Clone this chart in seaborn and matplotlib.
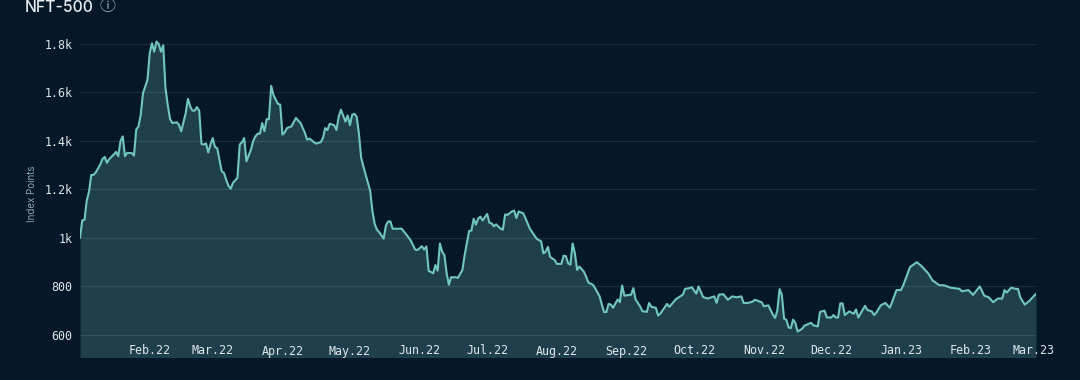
import pandas as pd
import matplotlib.pyplot as plt
import seaborn as sns

# Days since 1 Jan 2022 and index value
days = [0, 1, 2, 3, 4, 5, 6, 7, 9, 10, 11, 12, 13, 15, 16, 17, 18, 19, 20, 21, 23, 24, 25, 26, 27, 28, 29, 30,
        31, 32, 33, 34, 35, 36, 37, 38, 39, 40, 41, 43, 44, 45, 47, 48, 49, 50, 51, 52, 53, 54, 55, 56, 57, 58,
        59, 60, 61, 63, 64, 65, 66, 67, 68, 70, 71, 72, 73, 74, 76, 77, 78, 79, 80, 81, 82, 83, 84, 85, 86, 87,
        88, 89, 90, 91, 92, 94, 96, 97, 98, 100, 101, 102, 104, 105, 107, 108, 109, 110, 111, 113, 114, 115,
        116, 117, 118, 119, 120, 121, 122, 123, 124,
        125, 127, 129, 130, 131, 132, 133, 135, 136, 137, 138, 139, 141, 143, 145, 147, 149, 150, 152, 153, 154,
        155, 156, 157, 158, 159, 160, 161, 162, 163, 164, 165, 167, 168, 170, 171, 173, 174, 175, 176, 177, 178,
        179, 181, 182, 183, 184, 185, 187, 188, 189, 190, 192, 193, 194, 195, 197, 198, 200, 202, 203, 205, 206,
        207, 208, 209, 211, 212, 214, 215, 216, 217, 218, 219, 220, 221, 222, 224, 225, 226, 228, 229, 231, 232,
        233, 234, 235, 236, 237, 239, 240, 241, 242, 245, 246, 247, 249, 250, 252, 253, 254, 256, 257, 258, 261,
        262, 265, 268, 269, 271, 272, 274, 275, 277, 279, 282, 283,
        284, 286, 288, 290, 292, 294, 295, 297, 299, 300, 303, 304, 306, 308, 309, 310, 311, 312, 313, 314, 315,
        316, 317, 318, 319, 321, 322, 325, 326, 328, 329, 331, 332, 334, 335, 336, 337, 338, 339, 340, 342, 344,
        345, 346, 349, 350, 352, 353, 354, 356, 358, 360, 361, 363, 365, 366, 369, 372, 374, 377, 379, 382, 384,
        387, 391, 392, 395, 397, 400, 402, 404, 406, 408, 410, 411, 412, 414, 416, 417, 418, 420, 422, 425]
values = [1000, 1072, 1075, 1154, 1190, 1260, 1260, 1270, 1303, 1326, 1334, 1310, 1325, 1344, 1355, 1337, 1399, 1419,
          1337, 1351, 1350, 1340, 1447, 1460, 1508, 1597, 1625, 1652,
          1762, 1803, 1768, 1810, 1800, 1768, 1795, 1618, 1549, 1492, 1474, 1477, 1467, 1440, 1515, 1574, 1542, 1525,
          1525, 1540, 1525, 1388, 1385, 1390, 1353, 1385,
          1412, 1375, 1370, 1275, 1268, 1240, 1215, 1203, 1227, 1248, 1385, 1395, 1412, 1316, 1364, 1400, 1419, 1430,
          1430, 1474, 1440, 1490, 1490, 1627, 1590, 1570,
          1553, 1550, 1426, 1435, 1453, 1460, 1495, 1484, 1475, 1433, 1405, 1410, 1395, 1389, 1395, 1412, 1453, 1445,
          1471, 1465, 1445, 1500,
          1529, 1505, 1480, 1505, 1465, 1508, 1512, 1500, 1430,
          1330, 1260, 1195, 1110, 1058, 1034, 1024, 997, 1052, 1068, 1068, 1038, 1038, 1038, 1015, 990, 952, 950, 966,
          952, 965,
          864, 860, 854, 888, 865, 977, 943, 929, 854, 807, 838, 838, 835, 868, 929, 1029, 1030, 1079, 1055, 1080, 1088,
          1072, 1099, 1063, 1060, 1048, 1056, 1038, 1034, 1097, 1095, 1109, 1113, 1082, 1109, 1102, 1082, 1038, 1011,
          997, 986, 936,
          943, 963, 922, 909, 893, 893, 927, 925, 895, 890, 977, 937, 868, 882, 861, 840, 816, 807, 793, 759, 725,
          694, 694, 728, 725, 712, 746, 735, 804, 762, 766, 793, 746, 718, 698, 695, 732, 716, 712, 680, 688, 728,
          716, 748, 766, 790, 793, 797, 770, 800, 756, 750, 759, 732,
          766, 768, 745, 759, 755, 759, 732, 732, 737, 745, 735, 718, 722, 684, 670, 700, 789, 766, 667, 663, 631,
          628, 663, 650, 614, 625, 638, 650, 640, 635, 695, 700, 672, 672, 682, 672, 672, 730, 730, 682, 697, 687,
          705, 672, 720, 703, 697, 682, 692, 722, 732, 712, 735, 785, 785, 805, 880, 900, 885, 855, 825, 805, 805,
          795, 790, 780, 785, 765, 800, 762, 755, 735, 750, 750, 785, 775, 795, 790, 790, 755, 725, 740, 770]
month_ticks = ['2022-02-01', '2022-03-01', '2022-04-01', '2022-05-01', '2022-06-01', '2022-07-01', '2022-08-01',
               '2022-09-01', '2022-10-01', '2022-11-01', '2022-12-01', '2023-01-01', '2023-02-01', '2023-03-01']
month_labels = ['Feb.22', 'Mar.22', 'Apr.22', 'May.22', 'Jun.22', 'Jul.22', 'Aug.22',
                'Sep.22', 'Oct.22', 'Nov.22', 'Dec.22', 'Jan.23', 'Feb.23', 'Mar.23']
y_ticks = [600, 800, 1000, 1200, 1400, 1600, 1800]
y_labels = ['600', '800', '1k', '1.2k', '1.4k', '1.6k', '1.8k']

df = pd.DataFrame({'date': pd.Timestamp('2022-01-01') + pd.to_timedelta(days, unit='D'), 'index_points': values})

bg = '#04182a'
sns.set_theme(style='dark', rc={'axes.facecolor': bg, 'figure.facecolor': bg})
fig = plt.figure(figsize=(10.8, 3.8), dpi=100)
ax = fig.add_axes([80 / 1080, 23 / 380, 956 / 1080, 327 / 380])

ax.fill_between(df['date'], df['index_points'], 400, color='#1f3f4d', linewidth=0, zorder=1)
sns.lineplot(data=df, x='date', y='index_points', ax=ax, color='#72c6c0', linewidth=1.5, zorder=3)

ax.set_xlim(pd.Timestamp('2022-01-01'), pd.Timestamp('2023-03-02'))
ax.set_ylim(509, 1857.7)
ax.set_xticks(pd.to_datetime(month_ticks))
ax.set_xticklabels(month_labels)
ax.set_yticks(y_ticks)
ax.set_yticklabels(y_labels)
ax.set_xlabel('')
ax.set_ylabel('Index Points', color='#96a4ae', fontsize=7, fontfamily='Inter', labelpad=5)
ax.tick_params(axis='x', length=0, pad=-9, labelsize=8.4, labelcolor='#dfe8ec')
ax.tick_params(axis='y', length=0, pad=5.5, labelsize=8.4, labelcolor='#dfe8ec')
for t in ax.get_xticklabels() + ax.get_yticklabels():
    t.set_fontfamily('DejaVu Sans Mono')
ax.set_axisbelow(False)
ax.grid(axis='y', color='#ffffff', alpha=0.09, linewidth=0.9)
ax.grid(axis='x', visible=False)
for s in ax.spines.values():
    s.set_visible(False)

fig.text(25 / 1080, 1 - 11.5 / 380, 'NFT-500', color='#e8eef1', fontsize=11.3, fontfamily='Inter',
         fontweight='medium', va='baseline')
fig.text(107 / 1080, 1 - 7 / 380, '\u24d8', color='#a5b0b7', fontsize=11.5, ha='center', va='center',
         family=['Noto Sans CJK SC', 'DejaVu Sans'])

fig.savefig('out.png', dpi=100, facecolor=bg)
